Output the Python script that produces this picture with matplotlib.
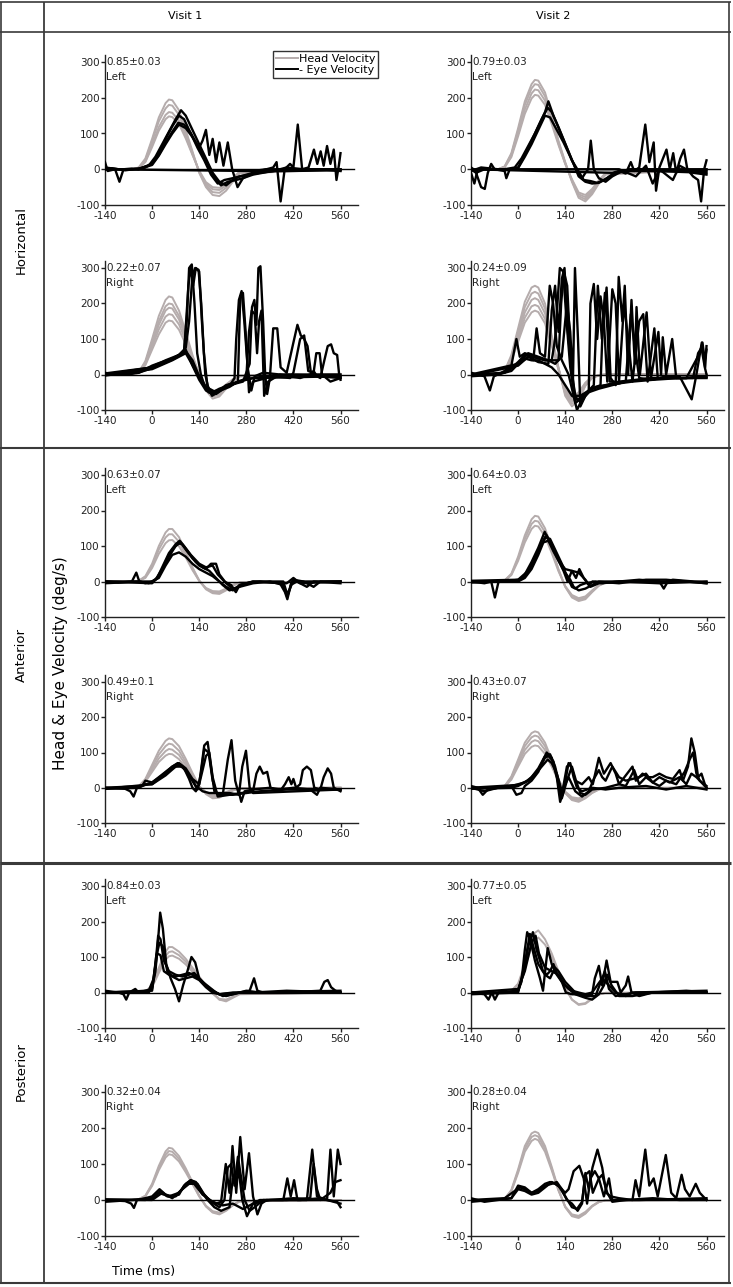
import matplotlib
matplotlib.use("Agg")
import matplotlib.pyplot as plt
from matplotlib.lines import Line2D

plt.rcParams['font.family'] = ['DejaVu Sans']
plt.rcParams['axes.unicode_minus'] = False

# ---------------- data ----------------
TICKS_X = [-140, 0, 140, 280, 420, 560]
TICKS_Y = [-100, 0, 100, 200, 300]
COL_TITLES = ["Visit 1", "Visit 2"]
ROW_TITLES = ["Horizontal", "Anterior", "Posterior"]

# time grid (ms) of the head-velocity traces
HEAD_T = [-140, -60, -40, -20, 0, 20, 40, 50, 60, 80, 100, 120, 140, 160, 180, 200, 220, 240, 260, 560]

# ---- Horizontal, Visit 1, Left
HZ_V1_L_GAIN = "0.85\u00b10.03"
HZ_V1_L_HEAD = [
    [0, 0, 5, 30, 85, 145, 185, 195, 193, 165, 110, 50, -10, -50, -72, -75, -60, -35, -12, 0],
    [0, 0, 4, 26, 78, 134, 170, 180, 178, 152, 102, 46, -8, -45, -64, -66, -52, -30, -10, 0],
    [0, 0, 3, 22, 68, 118, 152, 160, 158, 136, 92, 42, -6, -40, -56, -58, -46, -26, -8, 0],
    [0, 0, 3, 20, 62, 108, 140, 148, 146, 126, 86, 40, -4, -36, -50, -52, -42, -24, -7, 0],
]
HZ_V1_L_EYE = [
    [(-140, 20), (-132, -5), (-110, 0), (-97, -35), (-85, 0), (-60, 2), (-40, 0), (-20, 5), (0, 18), (20, 45), (40, 85), (60, 120), (80, 150), (95, 140), (110, 110), (130, 75), (150, 40), (170, 5), (190, -30), (205, -45), (225, -35), (250, -30), (270, -25), (300, -15), (340, -8), (380, -3), (420, 0), (500, 0), (560, -5)],
    [(-140, 0), (-120, 3), (-80, -3), (-40, 2), (-10, 10), (10, 35), (30, 70), (50, 105), (70, 140), (86, 165), (100, 150), (120, 110), (140, 70), (160, 30), (180, -10), (200, -35), (220, -45), (240, -30), (260, -20), (290, -15), (320, -10), (360, -5), (400, 5), (450, 0), (560, 0)],
    [(-140, 5), (-100, 0), (-40, 0), (-20, 8), (0, 15), (20, 40), (40, 75), (60, 105), (78, 130), (95, 125), (115, 100), (135, 60), (155, 25), (175, -15), (195, -40), (215, -30), (240, -25), (270, -18), (300, -10), (340, -5), (400, -5), (560, -3)],
    [(-140, 0), (-60, 0), (-30, 3), (0, 12), (20, 38), (40, 70), (60, 100), (80, 125), (100, 115), (120, 90), (140, 60), (150, 80), (160, 110), (170, 40), (180, 85), (190, 20), (200, 75), (212, 10), (225, 75), (238, 0), (254, -50), (270, -25), (300, -10), (340, 0), (560, 0)],
    [(-140, 0), (300, -5), (340, 0), (360, 5), (370, 20), (382, -90), (394, 0), (410, 15), (420, 5), (433, 125), (446, 0), (465, 5), (481, 55), (491, 15), (501, 50), (510, 10), (520, 65), (530, 15), (540, 55), (548, -30), (555, 10), (560, 45)],
]

# ---- Horizontal, Visit 2, Left
HZ_V2_L_GAIN = "0.79\u00b10.03"
HZ_V2_L_HEAD = [
    [0, 0, 8, 45, 115, 190, 238, 250, 248, 215, 150, 80, 20, -35, -80, -90, -70, -40, -15, 0],
    [0, 0, 7, 42, 108, 180, 226, 238, 236, 204, 143, 76, 18, -33, -75, -84, -65, -37, -13, 0],
    [0, 0, 6, 38, 100, 167, 212, 223, 221, 192, 134, 72, 16, -30, -70, -78, -60, -34, -12, 0],
    [0, 0, 5, 34, 92, 155, 198, 208, 206, 180, 126, 68, 15, -28, -65, -72, -55, -31, -10, 0],
]
HZ_V2_L_EYE = [
    [(-140, 0), (-125, -10), (-110, -50), (-99, -55), (-90, -10), (-80, 15), (-70, 0), (-40, -5), (-35, -25), (-25, 0), (0, 5), (20, 40), (40, 80), (60, 120), (80, 160), (90, 190), (105, 150), (125, 105), (145, 60), (165, 15), (180, -20), (200, -35), (220, -40), (240, -38), (260, -28), (280, -15), (300, -8), (340, 0), (560, -5)],
    [(-140, 5), (-120, -8), (-100, 0), (-40, 0), (-10, 5), (10, 30), (30, 65), (50, 100), (70, 140), (88, 172), (100, 160), (120, 118), (140, 72), (160, 25), (176, 0), (195, -30), (215, -33), (235, -38), (255, -30), (275, -18), (300, -5), (400, -5), (500, -8), (560, -10)],
    [(-140, -5), (-110, 5), (-60, 0), (-20, 0), (0, 3), (20, 35), (40, 70), (60, 110), (80, 150), (95, 145), (115, 110), (135, 75), (155, 35), (175, -5), (190, -25), (200, -10), (208, 0), (216, 80), (225, 0), (240, -25), (260, -35), (280, -20), (300, -10), (330, 0), (560, 0)],
    [(-140, 0), (280, -10), (300, -5), (320, -12), (335, 20), (345, -5), (360, 5), (378, 125), (390, 20), (403, 75), (410, -60), (420, 5), (441, 55), (451, 0), (461, 45), (470, -10), (482, 30), (493, 55), (503, 0), (520, -20), (535, -30), (544, -90), (553, 0), (560, 25)],
    [(-140, -10), (-130, -40), (-120, 0), (300, 0), (350, -20), (380, 10), (400, -40), (420, 0), (460, -30), (480, 10), (520, -10), (560, -15)],
]

# ---- Horizontal, Visit 1, Right
HZ_V1_R_GAIN = "0.22\u00b10.07"
HZ_V1_R_HEAD = [
    [0, 0, 6, 38, 100, 165, 210, 220, 217, 180, 120, 55, 0, -45, -68, -62, -40, -20, -5, 0],
    [0, 0, 5, 34, 92, 150, 192, 200, 198, 165, 110, 50, 0, -42, -62, -57, -37, -18, -5, 0],
    [0, 0, 5, 32, 86, 140, 180, 188, 186, 155, 104, 47, 0, -40, -58, -53, -34, -17, -4, 0],
    [0, 0, 4, 29, 78, 127, 163, 170, 168, 141, 95, 44, 0, -36, -53, -48, -31, -15, -4, 0],
    [0, 0, 4, 26, 70, 113, 146, 152, 150, 126, 85, 40, 0, -32, -47, -43, -28, -13, -3, 0],
]
HZ_V1_R_EYE = [
    [(-140, 5), (-120, 0), (-60, 2), (-40, 8), (-20, 15), (0, 25), (20, 32), (40, 38), (60, 45), (80, 55), (95, 68), (103, 150), (110, 300), (118, 310), (126, 200), (134, 60), (145, 0), (155, -30), (168, -50), (185, -55), (200, -45), (220, -30), (240, -25), (260, -18), (300, -10), (340, -5), (400, 0), (560, 0)],
    [(-140, 0), (-80, 2), (-40, 5), (0, 22), (40, 40), (80, 55), (100, 75), (110, 150), (120, 280), (128, 300), (138, 295), (146, 200), (154, 60), (164, -30), (178, -60), (195, -50), (215, -35), (235, -25), (245, -10), (250, 100), (258, 210), (266, 235), (274, 150), (284, 20), (295, -45), (305, -5), (330, 5), (380, 0), (560, -5)],
    [(-140, 0), (-40, 5), (0, 18), (50, 38), (80, 55), (100, 70), (120, 25), (140, -15), (160, -45), (180, -55), (200, -45), (230, -30), (270, -20), (290, 30), (297, 190), (304, 210), (310, 140), (316, 300), (322, 305), (330, 150), (336, 0), (342, -55), (350, -10), (360, 130), (372, 130), (382, 20), (400, 5), (420, 90), (432, 140), (442, 110), (452, 100), (462, 80), (472, 5), (500, -10), (512, 40), (522, 80), (532, 85), (540, 60), (550, 55), (556, 0), (560, -15)],
    [(-140, 3), (0, 20), (60, 45), (100, 65), (120, 40), (140, -5), (160, -40), (180, -50), (200, -40), (230, -30), (260, -20), (280, -10), (288, 120), (296, 180), (305, 170), (312, 60), (318, 150), (325, 180), (333, -60), (345, -20), (380, 0), (440, -10), (470, 0), (480, 10), (490, -5), (560, -10)],
    [(-140, -3), (0, 15), (60, 40), (100, 60), (130, 10), (160, -35), (190, -50), (230, -35), (255, -20), (262, 220), (270, 230), (278, 120), (288, -50), (300, -20), (360, -5), (410, -10), (420, 5), (440, 100), (452, 110), (464, 10), (480, 5), (488, 60), (498, 60), (505, 0), (530, -20), (560, -10)],
    [(-140, 0), (0, 20), (60, 42), (95, 60), (108, 250), (115, 305), (122, 250), (130, 300), (140, 290), (148, 150), (158, 0), (170, -50), (190, -55), (220, -35), (260, -20), (300, -10), (560, -5)],
]

# ---- Horizontal, Visit 2, Right
HZ_V2_R_GAIN = "0.24\u00b10.09"
HZ_V2_R_HEAD = [
    [0, 0, 10, 55, 130, 205, 245, 250, 245, 200, 110, 20, -60, -90, -72, -32, -10, -3, 0, 0],
    [0, 0, 9, 50, 120, 190, 228, 233, 228, 186, 102, 18, -55, -83, -66, -30, -9, -2, 0, 0],
    [0, 0, 8, 46, 110, 175, 210, 215, 210, 172, 95, 16, -50, -76, -60, -27, -8, -2, 0, 0],
    [0, 0, 7, 42, 100, 160, 192, 196, 192, 157, 87, 15, -45, -70, -55, -25, -7, -2, 0, 0],
    [0, 0, 6, 38, 92, 146, 175, 180, 176, 144, 80, 14, -42, -64, -50, -23, -6, -2, 0, 0],
]
HZ_V2_R_EYE = [
    [(-140, 5), (-120, 0), (-100, -5), (-84, -45), (-72, -5), (-60, 0), (-40, 10), (-20, 25), (-5, 100), (5, 50), (20, 60), (35, 55), (45, 40), (55, 130), (65, 60), (80, 50), (94, 250), (104, 200), (115, 80), (130, 40), (150, 0), (165, -60), (175, -100), (190, -70), (210, -50), (240, -40), (280, -30), (320, -20), (360, -15), (400, -10), (440, -10), (480, -5), (516, -70), (530, 0), (546, 90), (556, 20), (560, 80)],
    [(-140, 0), (-60, 0), (-30, 10), (0, 35), (20, 55), (40, 50), (60, 45), (80, 40), (100, 40), (110, 100), (124, 300), (134, 290), (144, 150), (155, 20), (170, -80), (185, -70), (205, -50), (225, -30), (237, 250), (249, 100), (263, 245), (275, -10), (290, -30), (299, 275), (310, 150), (317, 250), (327, 0), (337, 210), (347, 30), (352, 190), (362, 0), (382, 175), (395, -10), (417, 120), (425, 0), (430, 105), (440, 0), (458, 100), (470, -10), (500, -10), (540, -5), (560, -5)],
    [(-140, -5), (-60, 0), (-20, 10), (10, 40), (30, 60), (60, 50), (90, 40), (110, 30), (130, 50), (145, 200), (155, 120), (163, -20), (169, 300), (178, 100), (185, -90), (200, -60), (220, -40), (260, -30), (300, -20), (400, -10), (500, -10), (540, 60), (548, 90), (555, 40), (560, 70)],
    [(-140, 0), (-40, 5), (0, 30), (20, 45), (40, 40), (60, 40), (80, 30), (100, 20), (120, 0), (140, -30), (160, -60), (180, -70), (200, -55), (220, -40), (245, -30), (252, 150), (258, 230), (266, 120), (272, -20), (285, -20), (300, -25), (320, -20), (335, 170), (344, 100), (360, -10), (400, -15), (440, -5), (480, -10), (520, -10), (535, 60), (545, 75), (555, 20), (560, 0)],
    [(-140, -3), (0, 25), (30, 50), (60, 35), (90, 30), (100, 180), (110, 250), (120, 120), (130, 270), (138, 300), (146, 140), (160, 0), (172, -70), (190, -75), (210, -45), (230, -35), (260, -30), (340, -20), (400, -15), (480, -10), (560, -8)],
    [(-140, 0), (0, 30), (40, 55), (80, 40), (120, 40), (128, 200), (136, 290), (146, 250), (156, 50), (168, -60), (185, -60), (210, -45), (215, 200), (225, 255), (235, 100), (245, 220), (255, 150), (265, -20), (280, 240), (290, 200), (300, -20), (315, 200), (327, 100), (340, -20), (360, 150), (372, 170), (385, -20), (405, 130), (415, -10), (560, -10)],
]

# ---- Anterior, Visit 1, Left
AN_V1_L_GAIN = "0.63\u00b10.07"
AN_V1_L_HEAD = [
    [0, 0, 2, 15, 50, 100, 138, 148, 148, 125, 85, 40, 3, -22, -33, -35, -25, -12, -4, 0],
    [0, 0, 2, 12, 44, 90, 124, 133, 133, 112, 76, 36, 2, -20, -30, -32, -22, -10, -3, 0],
    [0, 0, 1, 10, 38, 78, 108, 116, 117, 99, 68, 32, 2, -18, -27, -28, -20, -9, -3, 0],
]
AN_V1_L_EYE = [
    [(-140, 0), (-100, -3), (-60, 0), (-47, 25), (-38, 0), (-20, -5), (0, 0), (15, 10), (30, 40), (50, 80), (70, 105), (82, 115), (95, 100), (115, 75), (140, 50), (160, 40), (180, 45), (195, 20), (215, 0), (235, -10), (249, -30), (260, -10), (280, -5), (320, 0), (380, -5), (395, -30), (402, -50), (412, -10), (430, 0), (460, -15), (480, 0), (560, -5)],
    [(-140, -5), (-40, 0), (-10, -5), (10, 5), (30, 35), (50, 70), (70, 100), (85, 110), (100, 90), (120, 65), (140, 45), (160, 35), (175, 50), (190, 50), (200, 20), (220, -5), (240, -20), (260, -15), (300, -5), (350, 0), (390, -10), (400, -40), (410, -20), (420, 5), (450, 0), (480, -15), (500, 0), (560, 0)],
    [(-140, 0), (0, 0), (20, 10), (40, 45), (60, 75), (80, 82), (100, 70), (120, 50), (140, 35), (160, 25), (180, 15), (200, 0), (220, -15), (240, -25), (260, -10), (300, 0), (400, -5), (420, 10), (440, -5), (560, 0)],
    [(-140, 0), (0, -5), (20, 15), (40, 55), (60, 90), (78, 108), (90, 105), (110, 80), (130, 55), (150, 40), (170, 30), (190, 10), (210, -10), (230, -25), (250, -20), (270, -8), (300, 0), (390, 0), (398, -25), (405, -35), (415, 0), (560, 0)],
]

# ---- Anterior, Visit 2, Left
AN_V2_L_GAIN = "0.64\u00b10.03"
AN_V2_L_HEAD = [
    [0, 0, 3, 22, 70, 130, 175, 185, 183, 150, 95, 35, -15, -45, -55, -50, -30, -12, -3, 0],
    [0, 0, 3, 20, 64, 120, 162, 171, 169, 139, 88, 32, -14, -42, -51, -46, -28, -11, -3, 0],
    [0, 0, 2, 18, 58, 110, 148, 157, 155, 127, 80, 29, -13, -38, -47, -42, -25, -10, -2, 0],
]
AN_V2_L_EYE = [
    [(-140, 0), (-100, -5), (-80, 0), (-69, -45), (-58, 0), (-40, 0), (0, 0), (20, 20), (40, 55), (60, 95), (79, 140), (95, 110), (115, 70), (135, 30), (147, 0), (160, 30), (172, 10), (182, 35), (195, 10), (210, -10), (221, 0), (250, -5), (300, 0), (360, 5), (420, 0), (433, -20), (445, 0), (500, 0), (560, -5)],
    [(-140, -3), (-40, 0), (0, 5), (20, 15), (40, 45), (60, 85), (80, 125), (95, 120), (110, 90), (130, 50), (145, 15), (160, -15), (170, -20), (185, -10), (200, -5), (230, 0), (300, -5), (380, 5), (440, 5), (500, 0), (560, -5)],
    [(-140, 0), (0, 0), (20, 10), (40, 35), (60, 75), (75, 110), (90, 115), (105, 85), (125, 50), (140, 25), (155, 5), (165, -15), (180, -25), (200, -20), (220, -10), (240, 0), (300, 0), (420, -5), (560, 0)],
    [(-140, 2), (0, 5), (30, 30), (50, 65), (70, 105), (85, 130), (100, 100), (120, 60), (140, 35), (160, 30), (180, 25), (200, 5), (215, -15), (240, -5), (300, 0), (440, 0), (460, 5), (560, -3)],
]

# ---- Anterior, Visit 1, Right
AN_V1_R_GAIN = "0.49\u00b10.1"
AN_V1_R_HEAD = [
    [0, 0, 4, 25, 65, 105, 133, 140, 138, 118, 82, 42, 5, -18, -30, -28, -18, -8, -2, 0],
    [0, 0, 3, 22, 58, 94, 118, 125, 123, 105, 73, 37, 4, -16, -27, -25, -16, -7, -2, 0],
    [0, 0, 3, 19, 51, 83, 104, 110, 108, 93, 65, 33, 3, -14, -24, -22, -14, -6, -2, 0],
    [0, 0, 2, 17, 45, 73, 91, 96, 95, 81, 57, 29, 3, -12, -21, -19, -12, -5, -2, 0],
]
AN_V1_R_EYE = [
    [(-140, 0), (-80, -3), (-65, -10), (-55, -25), (-45, 0), (-30, 5), (-20, 20), (0, 15), (20, 30), (40, 45), (60, 60), (76, 70), (95, 55), (110, 25), (120, 0), (130, -10), (140, 10), (155, 120), (165, 130), (175, 60), (185, -10), (200, -20), (240, -20), (280, -15), (320, -10), (400, -5), (560, -5)],
    [(-140, -3), (-40, 0), (-20, 10), (0, 10), (20, 25), (40, 40), (60, 55), (80, 65), (100, 50), (120, 20), (135, -5), (145, 40), (155, 110), (168, 100), (180, 20), (192, -15), (210, -20), (225, 80), (236, 135), (247, 20), (258, -20), (268, 60), (279, 105), (290, 0), (300, -15), (560, -5)],
    [(-140, 0), (-30, 5), (0, 15), (30, 35), (60, 60), (80, 70), (100, 55), (120, 25), (140, 10), (160, 90), (170, 100), (180, 30), (195, -25), (230, -20), (300, -10), (310, 40), (320, 60), (330, 40), (342, 45), (352, 0), (380, -10), (395, 10), (406, 30), (414, 10), (420, 25), (428, 0), (440, 10), (448, 50), (460, 60), (472, 50), (482, 0), (500, -5), (510, 30), (522, 55), (532, 40), (540, 0), (560, -10)],
    [(-140, -3), (0, 10), (40, 35), (70, 60), (90, 60), (110, 35), (130, 5), (150, -10), (170, -15), (190, -15), (230, -15), (260, -20), (265, -40), (275, -10), (300, -5), (350, 0), (380, -5), (420, 0), (470, -5), (490, -20), (500, 0), (560, -5)],
]

# ---- Anterior, Visit 2, Right
AN_V2_R_GAIN = "0.43\u00b10.07"
AN_V2_R_HEAD = [
    [0, 0, 5, 32, 80, 128, 155, 160, 157, 128, 80, 25, -15, -35, -40, -30, -15, -5, -1, 0],
    [0, 0, 4, 29, 74, 118, 143, 148, 145, 118, 74, 23, -14, -33, -37, -28, -14, -5, -1, 0],
    [0, 0, 4, 26, 67, 107, 130, 135, 132, 107, 67, 21, -12, -30, -34, -25, -12, -4, -1, 0],
    [0, 0, 3, 23, 60, 96, 116, 120, 118, 96, 60, 19, -11, -27, -30, -22, -11, -4, -1, 0],
]
AN_V2_R_EYE = [
    [(-140, 5), (-120, 0), (-105, -20), (-90, -5), (-60, 0), (-20, 5), (-5, -20), (10, -15), (20, 5), (40, 20), (60, 45), (75, 80), (85, 100), (100, 85), (115, 30), (125, -40), (135, -10), (150, 70), (160, 55), (170, 20), (190, 10), (210, 30), (222, 10), (240, 85), (255, 40), (275, 70), (290, 40), (300, 10), (340, 60), (350, 20), (370, 40), (385, 30), (400, 30), (420, 40), (440, 30), (460, 25), (480, 50), (490, 20), (505, 60), (515, 140), (525, 100), (535, 30), (545, 40), (555, 10), (560, 0)],
    [(-140, 0), (-100, -10), (-60, 0), (-20, 5), (0, 10), (20, 15), (40, 30), (60, 55), (80, 90), (95, 95), (110, 60), (120, 20), (130, -20), (145, 60), (155, 70), (165, 30), (175, 0), (190, -10), (220, 0), (260, -5), (300, 0), (380, 5), (440, -5), (500, 5), (560, -5)],
    [(-140, -3), (-20, 0), (0, 5), (30, 20), (60, 50), (80, 85), (90, 90), (105, 75), (120, 10), (130, -30), (145, 20), (160, 60), (172, 20), (185, -15), (200, -20), (220, -5), (260, 0), (300, 10), (320, 5), (345, 50), (360, 10), (380, 30), (400, 15), (420, 5), (440, 20), (470, 10), (495, 45), (510, 80), (520, 100), (530, 40), (540, 20), (560, 5)],
    [(-140, 0), (0, 8), (40, 25), (70, 60), (88, 80), (100, 70), (115, 40), (130, -10), (150, 30), (170, -10), (190, -25), (210, -10), (225, 25), (240, 50), (250, 30), (260, 20), (280, 60), (300, 30), (320, 20), (360, 30), (380, 40), (400, 15), (420, 30), (450, 15), (480, 30), (500, 10), (515, 40), (530, 30), (560, 0)],
]

# ---- Posterior, Visit 1, Left
PO_V1_L_GAIN = "0.84\u00b10.03"
PO_V1_L_HEAD = [
    [0, 0, 0, 3, 20, 70, 115, 128, 128, 115, 95, 70, 45, 20, 0, -20, -25, -15, -5, 0],
    [0, 0, 0, 2, 17, 62, 103, 114, 116, 105, 87, 64, 40, 17, -2, -20, -22, -13, -4, 0],
    [0, 0, 0, 2, 15, 55, 92, 102, 104, 95, 79, 58, 36, 15, -3, -18, -20, -12, -4, 0],
]
PO_V1_L_EYE = [
    [(-140, 5), (-100, 0), (-85, -5), (-77, -20), (-68, 0), (-50, 10), (-40, 0), (-10, 0), (0, 15), (10, 60), (18, 150), (24, 225), (32, 180), (42, 80), (55, 40), (68, 10), (80, -25), (92, 20), (105, 60), (117, 100), (128, 85), (140, 40), (160, 20), (180, 5), (200, -5), (220, -10), (260, 0), (290, 5), (303, 40), (313, 5), (330, 0), (400, 0), (500, 5), (512, 30), (522, 35), (532, 15), (545, 5), (560, 0)],
    [(-140, 0), (-40, 0), (0, 10), (10, 80), (18, 160), (25, 150), (35, 90), (50, 60), (70, 50), (90, 45), (110, 50), (125, 55), (140, 40), (160, 20), (180, 5), (200, -5), (240, 0), (300, 0), (400, 5), (560, 0)],
    [(-140, 0), (-10, 5), (5, 40), (15, 110), (25, 105), (35, 60), (50, 50), (70, 45), (90, 50), (110, 55), (130, 45), (150, 30), (170, 15), (190, 0), (210, -10), (240, -5), (280, 5), (320, 0), (560, 5)],
    [(-140, 0), (0, 5), (12, 100), (22, 140), (32, 130), (45, 60), (60, 45), (80, 35), (100, 40), (120, 45), (140, 35), (160, 15), (180, 0), (200, -5), (260, 0), (560, 0)],
]

# ---- Posterior, Visit 2, Left
PO_V2_L_GAIN = "0.77\u00b10.05"
PO_V2_L_HEAD = [
    [0, 0, 0, 5, 25, 80, 145, 168, 175, 150, 110, 60, 15, -20, -35, -32, -18, -6, -1, 0],
    [0, 0, 0, 4, 22, 70, 128, 148, 155, 135, 100, 55, 12, -20, -33, -30, -16, -5, -1, 0],
]
PO_V2_L_EYE = [
    [(-140, 0), (-100, -5), (-88, -20), (-78, 0), (-69, -20), (-58, 0), (-30, 0), (0, 5), (10, 30), (20, 120), (27, 170), (36, 150), (50, 90), (65, 40), (74, 5), (88, 125), (100, 80), (115, 50), (130, 30), (142, 0), (160, -5), (180, -5), (200, -10), (220, -5), (228, 40), (240, 75), (250, 20), (263, 90), (275, 30), (295, 30), (305, 0), (320, 20), (327, 45), (337, 0), (360, -10), (400, 0), (500, 5), (560, 0)],
    [(-140, 0), (-60, 0), (0, 5), (15, 50), (30, 130), (44, 170), (55, 120), (65, 90), (74, 60), (85, 50), (95, 60), (105, 80), (115, 55), (130, 30), (150, 10), (170, -5), (200, -15), (220, -20), (240, -5), (255, 20), (265, 50), (278, 20), (300, -10), (340, -10), (400, 0), (560, 0)],
    [(-140, 0), (0, 10), (20, 60), (40, 140), (52, 160), (62, 110), (80, 70), (100, 60), (120, 50), (140, 20), (160, 5), (180, 0), (200, -5), (220, 0), (250, 40), (270, 20), (290, 0), (320, -10), (340, 0), (560, 5)],
    [(-140, -5), (0, 0), (20, 80), (35, 165), (45, 130), (60, 80), (80, 50), (95, 40), (110, 70), (120, 60), (140, 30), (170, 0), (200, -10), (230, -10), (258, 60), (270, 10), (290, -10), (350, 0), (560, 0)],
]

# ---- Posterior, Visit 1, Right
PO_V1_R_GAIN = "0.32\u00b10.04"
PO_V1_R_HEAD = [
    [0, 0, 2, 12, 45, 95, 135, 145, 143, 122, 88, 50, 12, -18, -35, -40, -30, -15, -4, 0],
    [0, 0, 2, 11, 42, 89, 126, 136, 134, 114, 82, 47, 11, -17, -33, -37, -28, -14, -4, 0],
    [0, 0, 2, 10, 39, 83, 118, 127, 125, 107, 77, 44, 10, -16, -31, -35, -26, -13, -3, 0],
]
PO_V1_R_EYE = [
    [(-140, 0), (-80, -3), (-62, -10), (-54, -22), (-45, 0), (-20, 5), (0, 10), (22, 30), (40, 15), (60, 10), (80, 15), (95, 40), (115, 55), (130, 50), (150, 20), (170, 0), (190, -10), (205, -5), (219, 100), (230, 20), (239, 150), (250, 20), (262, 175), (275, 30), (288, 130), (300, 10), (313, -40), (325, -10), (340, 0), (390, 0), (402, 60), (412, 10), (422, 55), (432, 0), (460, 0), (476, 140), (490, 10), (520, 0), (530, 140), (540, 10), (552, 140), (560, 100)],
    [(-140, -5), (-60, 0), (0, 5), (20, 20), (50, 10), (80, 20), (100, 45), (115, 55), (135, 45), (155, 15), (175, -5), (200, -20), (215, 0), (225, 90), (235, 100), (245, 40), (255, 120), (265, 60), (275, 0), (290, -30), (305, -20), (330, 0), (400, 0), (470, 5), (480, 100), (490, 30), (500, 0), (530, 20), (545, 50), (560, 55)],
    [(-140, 0), (-20, 0), (0, 5), (25, 25), (45, 10), (70, 10), (95, 35), (110, 50), (125, 50), (145, 25), (165, 0), (185, -20), (205, -30), (230, -20), (240, 60), (250, 50), (258, 80), (268, 0), (282, -45), (300, -10), (350, 0), (420, 5), (520, 0), (550, -5), (560, -20)],
    [(-140, 2), (0, 0), (30, 20), (60, 5), (90, 30), (110, 45), (125, 45), (150, 15), (180, -5), (210, -15), (240, -10), (270, -25), (290, -15), (320, 0), (440, 0), (500, 5), (560, -10)],
]

# ---- Posterior, Visit 2, Right
PO_V2_R_GAIN = "0.28\u00b10.04"
PO_V2_R_HEAD = [
    [0, 0, 3, 28, 85, 150, 185, 190, 186, 150, 92, 30, -20, -45, -50, -38, -18, -6, -1, 0],
    [0, 0, 3, 26, 80, 142, 175, 180, 176, 142, 87, 28, -19, -43, -47, -36, -17, -5, -1, 0],
    [0, 0, 3, 24, 75, 134, 164, 170, 166, 134, 82, 26, -18, -40, -44, -33, -16, -5, -1, 0],
]
PO_V2_R_EYE = [
    [(-140, 5), (-120, 0), (-100, -5), (-60, 0), (-20, 5), (0, 40), (20, 35), (40, 20), (60, 25), (80, 40), (100, 45), (115, 50), (130, 30), (145, 0), (160, -10), (177, -30), (190, -10), (200, 75), (210, 30), (221, 90), (236, 140), (250, 90), (262, 20), (275, 10), (300, 5), (340, 0), (349, 55), (360, 10), (378, 140), (390, 40), (403, 60), (415, 10), (439, 125), (455, 20), (470, 5), (486, 70), (496, 30), (510, 10), (528, 45), (540, 20), (560, 0)],
    [(-140, 0), (-40, 5), (-10, 25), (5, 35), (20, 30), (40, 20), (60, 30), (80, 45), (95, 50), (110, 45), (125, 35), (140, 20), (150, 30), (165, 80), (182, 95), (195, 60), (205, -10), (215, 60), (228, 80), (240, 60), (255, 10), (270, 60), (280, 0), (300, 0), (360, 0), (560, 5)],
    [(-140, -5), (-20, 5), (0, 30), (20, 25), (40, 15), (60, 20), (80, 35), (100, 50), (120, 40), (140, 10), (160, -20), (175, -25), (190, -5), (200, 70), (212, 80), (222, 20), (240, 60), (250, 70), (265, 20), (280, -5), (320, 0), (400, 5), (480, 0), (560, 0)],
]

PANELS = [
    (0, 0, HZ_V1_L_GAIN, "Left", HZ_V1_L_HEAD, HZ_V1_L_EYE),
    (0, 1, HZ_V2_L_GAIN, "Left", HZ_V2_L_HEAD, HZ_V2_L_EYE),
    (1, 0, HZ_V1_R_GAIN, "Right", HZ_V1_R_HEAD, HZ_V1_R_EYE),
    (1, 1, HZ_V2_R_GAIN, "Right", HZ_V2_R_HEAD, HZ_V2_R_EYE),
    (2, 0, AN_V1_L_GAIN, "Left", AN_V1_L_HEAD, AN_V1_L_EYE),
    (2, 1, AN_V2_L_GAIN, "Left", AN_V2_L_HEAD, AN_V2_L_EYE),
    (3, 0, AN_V1_R_GAIN, "Right", AN_V1_R_HEAD, AN_V1_R_EYE),
    (3, 1, AN_V2_R_GAIN, "Right", AN_V2_R_HEAD, AN_V2_R_EYE),
    (4, 0, PO_V1_L_GAIN, "Left", PO_V1_L_HEAD, PO_V1_L_EYE),
    (4, 1, PO_V2_L_GAIN, "Left", PO_V2_L_HEAD, PO_V2_L_EYE),
    (5, 0, PO_V1_R_GAIN, "Right", PO_V1_R_HEAD, PO_V1_R_EYE),
    (5, 1, PO_V2_R_GAIN, "Right", PO_V2_R_HEAD, PO_V2_R_EYE),
]

# ---------------- layout (pixels) ----------------
W, H = 733, 1287
ROW_Y300 = [62, 268, 475, 682, 886, 1092]
ROW_YM100 = [205, 410, 617, 823, 1028, 1236]
COL_X0 = [105, 471]
COL_W = [253, 253]
XLIM = (-140, 612)
YLIM = (-100, 320)
HEAD_COLOR = "#b5acac"
EYE_COLOR = "#000000"
FS = 7.5

fig = plt.figure(figsize=(W / 100, H / 100), dpi=100)
fig.patch.set_facecolor("white")

frame = fig.add_axes([0, 0, 1, 1])
frame.set_xlim(0, W)
frame.set_ylim(H, 0)
frame.axis("off")
lc = "#3a3a3a"
for (x0, y0, x1, y1, lw) in [
    (0, 2, 731, 2, 1.2), (0, 32, 731, 32, 1.2), (0, 448, 731, 448, 1.5),
    (0, 863, 731, 863, 2.2), (0, 1283, 731, 1283, 1.5),
    (1, 2, 1, 1283, 1.2), (44, 2, 44, 1283, 1.3), (729, 2, 729, 1283, 1.2),
]:
    frame.plot([x0, x1], [y0, y1], color=lc, lw=lw, solid_capstyle="butt")

frame.text(185, 16, COL_TITLES[0], ha="center", va="center", fontsize=8)
frame.text(553, 16, COL_TITLES[1], ha="center", va="center", fontsize=8)
for txt, yc in zip(ROW_TITLES, [240, 655, 1072]):
    frame.text(21, yc, txt, rotation=90, ha="center", va="center", fontsize=9.5)
frame.text(61, 663, "Head & Eye Velocity (deg/s)", rotation=90, ha="center",
           va="center", fontsize=11)
frame.text(144, 1272, "Time (ms)", ha="center", va="center", fontsize=9)

for (r, c, gain, side, heads, eyes) in PANELS:
    y300, ym = ROW_Y300[r], ROW_YM100[r]
    ppu = (ym - y300) / 400.0
    top = y300 - (YLIM[1] - 300) * ppu
    ax = fig.add_axes([COL_X0[c] / W, 1 - ym / H, COL_W[c] / W, (ym - top) / H])
    ax.set_xlim(*XLIM)
    ax.set_ylim(*YLIM)
    ax.patch.set_alpha(0)
    for hv in heads:
        ax.plot(HEAD_T, hv, color=HEAD_COLOR, lw=1.4, zorder=2)
    for ev in eyes:
        ax.plot([p[0] for p in ev], [p[1] for p in ev], color=EYE_COLOR, lw=1.7,
                zorder=3, solid_joinstyle="round")
    ax.axhline(0, xmin=0, xmax=(600 - XLIM[0]) / (XLIM[1] - XLIM[0]), color="black", lw=1.0, zorder=4)
    for s in ["top", "right"]:
        ax.spines[s].set_visible(False)
    for s in ["left", "bottom"]:
        ax.spines[s].set_linewidth(1.0)
        ax.spines[s].set_color("#222222")
    ax.set_xticks(TICKS_X)
    ax.set_yticks(TICKS_Y)
    ax.set_xticklabels([str(t) for t in TICKS_X])
    ax.set_yticklabels([str(t) for t in TICKS_Y])
    ax.tick_params(direction="out", length=3, width=1.0, labelsize=FS, pad=1, colors="#222222")
    ax.text(-136, 300, gain, ha="left", va="center", fontsize=FS, color="#222222")
    ax.text(-136, 258, side, ha="left", va="center", fontsize=FS, color="#222222")

handles = [Line2D([], [], color=HEAD_COLOR, lw=1.4), Line2D([], [], color=EYE_COLOR, lw=1.4)]
leg = fig.legend(handles, ["Head Velocity", "- Eye Velocity"], loc="upper left",
                 bbox_to_anchor=(273 / W, 1 - 51 / H), fontsize=8, frameon=True,
                 fancybox=False, edgecolor="black", handlelength=2.0, handletextpad=0.1,
                 borderpad=0.25, labelspacing=0.12, borderaxespad=0)
leg.get_frame().set_linewidth(1.0)

fig.savefig("out.png", dpi=100, facecolor="white")
